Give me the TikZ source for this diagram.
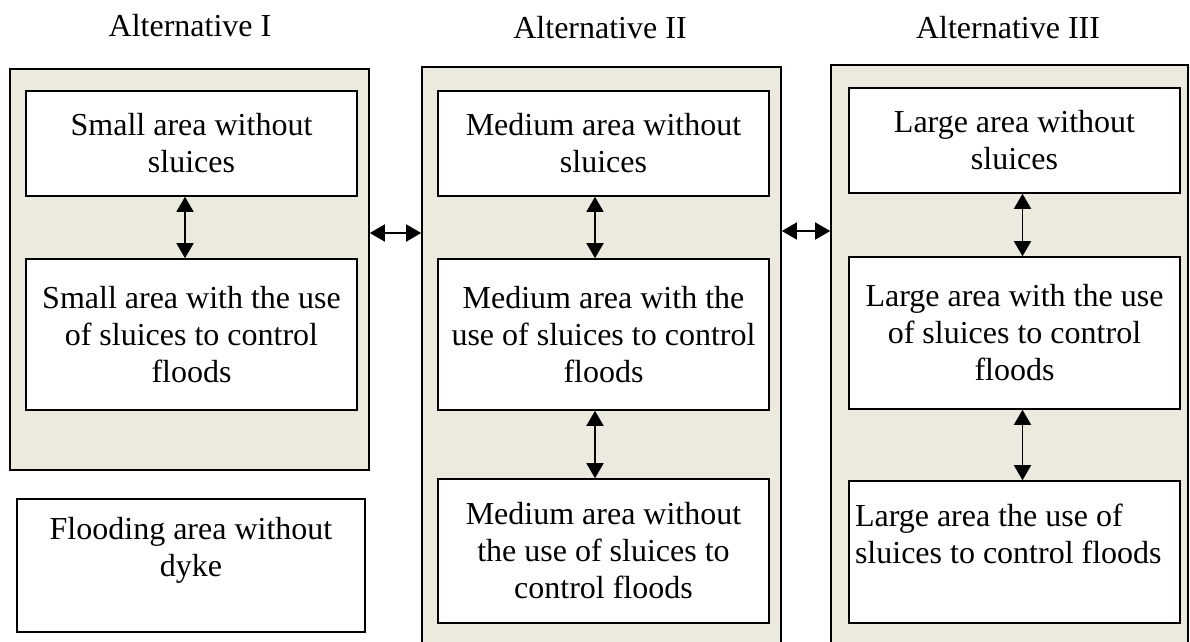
\documentclass[tikz,border=0pt]{standalone}
\usepackage{fontspec}
\setmainfont{Liberation Serif}
\usetikzlibrary{arrows.meta}
\definecolor{panelfill}{RGB}{236,233,223}
\tikzset{
  panelbox/.style={draw=black, line width=1.6pt, fill=panelfill, inner sep=0pt},
  itembox/.style={draw=black, line width=1.6pt, fill=white, inner sep=0pt,
    align=center, font=\fontsize{32}{37}\selectfont},
  title/.style={font=\fontsize{32}{37}\selectfont, anchor=base, inner sep=0pt},
  dbl/.style={{Triangle[width=17pt,length=15pt]}-{Triangle[width=17pt,length=15pt]}, line width=1.6pt}
}
\begin{document}
\begin{tikzpicture}[x=1pt,y=-1pt]
\clip (0,0) rectangle (1190,641);
\fill[white] (0,0) rectangle (1190,641);

% column titles
\node[title] (t1) at (190,36) {Alternative I};
\node[title] (t2) at (600,38) {Alternative II};
\node[title] (t3) at (1008,38) {Alternative III};

% shaded panels (II and III run past the lower edge)
\node[panelbox, minimum width=359pt, minimum height=401pt] (PI)   at (189.5,269.5) {};
\node[panelbox, minimum width=359pt, minimum height=590pt] (PII)  at (601.5,362) {};
\node[panelbox, minimum width=357pt, minimum height=590pt] (PIII) at (1009.5,360) {};

% Alternative I
\node[itembox, minimum width=331pt, minimum height=105pt] (I1) at (191.5,143.5)
  {Small area without\\sluices};
\node[itembox, minimum width=331pt, minimum height=151pt] (I2) at (191.5,334.5)
  {Small area with the use\\of sluices to control\\floods};
\node[itembox, minimum width=348pt, minimum height=133pt] (F) at (191,565.5)
  {Flooding area without\\dyke\\\mbox{}};

% Alternative II
\node[itembox, minimum width=331pt, minimum height=105pt] (II1) at (603.5,143.5)
  {Medium area without\\sluices};
\node[itembox, minimum width=331pt, minimum height=151pt] (II2) at (603.5,334.5)
  {Medium area with the\\use of sluices to control\\floods};
\node[itembox, minimum width=331pt, minimum height=144pt] (II3) at (603.5,551)
  {Medium area without\\the use of sluices to\\control floods};

% Alternative III
\node[itembox, minimum width=331pt, minimum height=105pt] (III1) at (1014.5,140.5)
  {Large area without\\sluices};
\node[itembox, minimum width=331pt, minimum height=152pt] (III2) at (1014.5,333)
  {Large area with the use\\of sluices to control\\floods};
\node[itembox, minimum width=331pt, minimum height=142pt, text width=319pt, align=flush left] (III3) at (1014.5,552)
  {Large area the use of\\sluices to control floods\\\mbox{}};

% links inside the panels
\draw[dbl] ([xshift=-6.5pt]I1.south) -- ([xshift=-6.5pt]I2.north);
\draw[dbl] ([xshift=-8.5pt]II1.south) -- ([xshift=-8.5pt]II2.north);
\draw[dbl] ([xshift=-8.5pt]II2.south) -- ([xshift=-8.5pt]II3.north);
\draw[dbl] ([xshift=8pt]III1.south) -- ([xshift=8pt]III2.north);
\draw[dbl] ([xshift=8pt]III2.south) -- ([xshift=8pt]III3.north);

% links between the panels
\coordinate (h1) at (0,233);
\coordinate (h2) at (0,231);
\draw[dbl] (PI.east |- h1) -- (PII.west |- h1);
\draw[dbl] (PII.east |- h2) -- (PIII.west |- h2);
\end{tikzpicture}
\end{document}
